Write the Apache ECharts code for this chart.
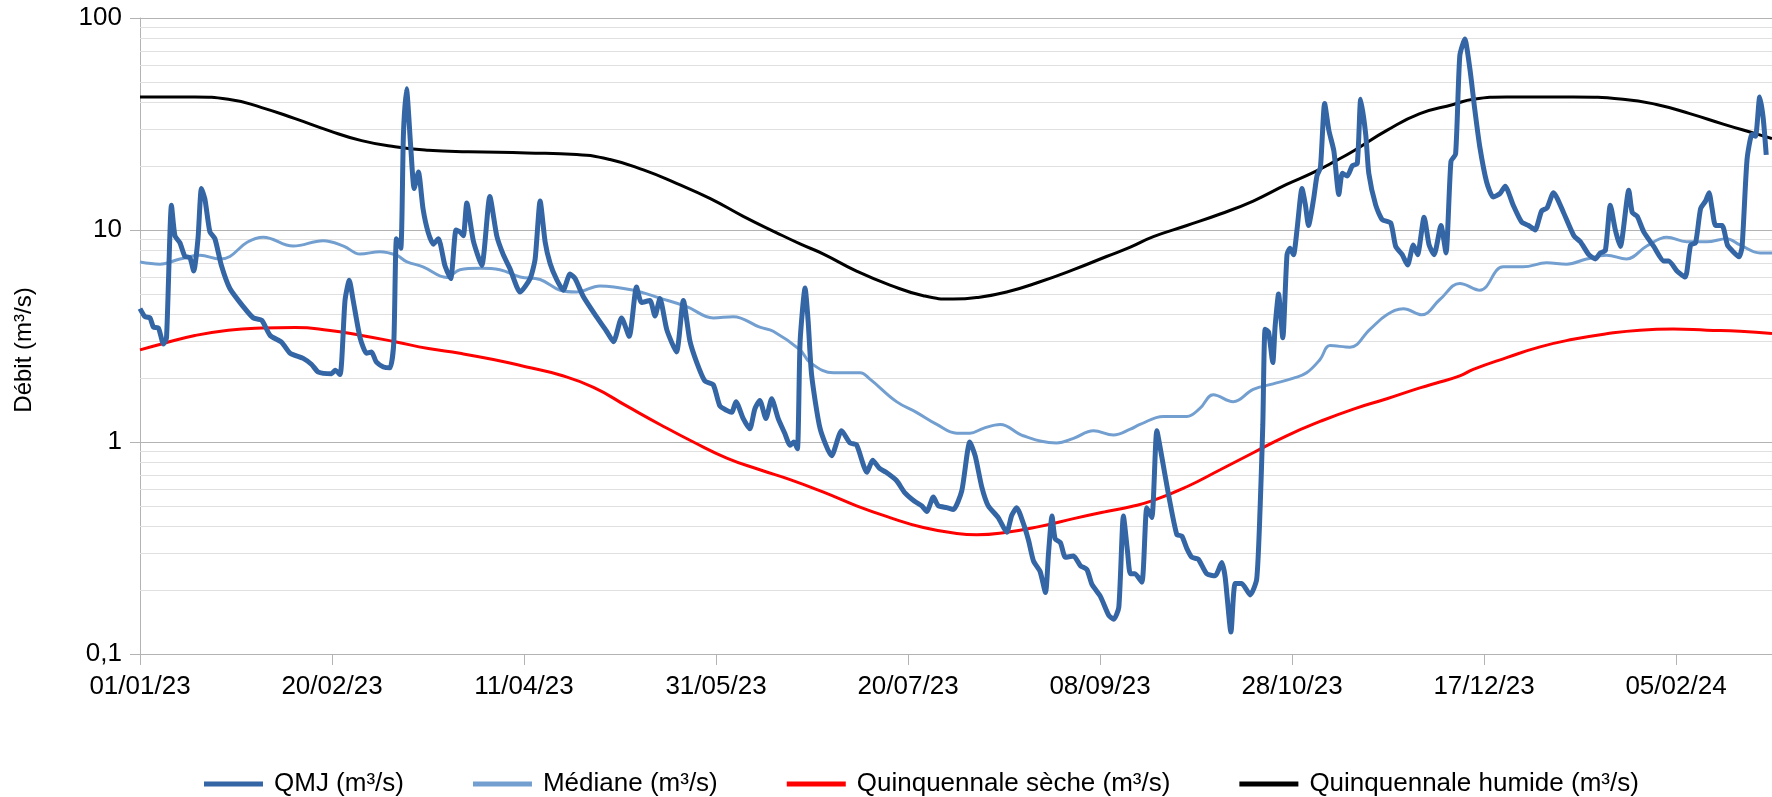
<!DOCTYPE html>
<html>
<head>
<meta charset="utf-8">
<script src="https://cdn.jsdelivr.net/npm/echarts@6/dist/echarts.min.js"></script>
<style>
  html, body { margin: 0; padding: 0; background: #fff; }
  #chart { width: 1772px; height: 797px; }
</style>
</head>
<body>
<div id="chart"></div>
<script>
// jours depuis le 01/01/23
var tickLabels = ['01/01/23', '20/02/23', '11/04/23', '31/05/23', '20/07/23', '08/09/23', '28/10/23', '17/12/23', '05/02/24'];
var minorGridValues = [0.2, 0.3, 0.4, 0.5, 0.6, 0.7, 0.8, 0.9, 2, 3, 4, 5, 6, 7, 8, 9, 20, 30, 40, 50, 60, 70, 80, 90];

var qmj = [[0,4.26],[1.3,3.9],[2.6,3.85],[3.5,3.48],[4.8,3.45],[6.1,2.9],[6.9,3.1],[8.2,13.1],[9.1,9.4],[10.4,8.7],[11.7,7.5],[13,7.4],[14,6.4],[15.1,9.1],[16,15.7],[16.9,14],[18.2,9.8],[19.5,9.1],[21.2,6.8],[23.4,5.3],[26.9,4.35],[29.5,3.85],[31.7,3.75],[33.9,3.18],[36.9,2.95],[39.1,2.62],[42.5,2.48],[44.7,2.32],[46.4,2.14],[49.9,2.1],[50.8,2.18],[52.1,2.08],[53.4,4.67],[54.5,5.79],[55.5,4.67],[57.3,3.11],[59,2.62],[60.3,2.66],[61.5,2.39],[63.4,2.26],[65.1,2.24],[66.1,2.97],[66.8,9.1],[67.9,8.2],[68.6,28.2],[69.4,46.4],[70.5,24.7],[71.4,15.7],[72.5,18.8],[73.7,12.6],[75,9.8],[76.4,8.57],[77.7,9.1],[79.4,6.8],[80.9,5.9],[82.3,10],[83.3,9.8],[84.2,9.4],[85.1,13.4],[86.8,8.9],[89,6.8],[91.1,14.4],[92.9,9.4],[94.6,7.65],[96.3,6.6],[99,5.1],[101.6,5.9],[102.9,7.3],[104.2,13.7],[105.5,8.8],[106.8,6.95],[108.5,5.84],[110.2,5.2],[112,6.2],[113.3,5.9],[115.4,4.87],[118.9,3.89],[121.5,3.33],[123.3,2.97],[125.4,3.85],[127.4,3.15],[129.3,5.38],[130.6,4.55],[132.8,4.65],[134.1,3.93],[135.4,4.75],[137.2,3.38],[139.7,2.66],[141.5,4.65],[143.2,3.0],[145,2.37],[147.1,1.94],[149.3,1.86],[151,1.48],[152.8,1.41],[154.1,1.38],[155.2,1.55],[157.1,1.29],[158.8,1.155],[160.1,1.43],[161.4,1.57],[163,1.29],[164.5,1.6],[166.2,1.29],[167.9,1.1],[169.3,0.965],[170.3,1.0],[171.2,0.93],[171.9,2.97],[173.2,5.33],[174,3.7],[174.9,2.07],[177.1,1.16],[180.1,0.862],[182.7,1.13],[184.9,0.99],[186.6,0.97],[189.3,0.72],[190.8,0.82],[192.6,0.75],[194.3,0.72],[197,0.658],[199.2,0.575],[201.7,0.525],[203.6,0.5],[204.9,0.47],[206.6,0.55],[207.9,0.5],[210.1,0.49],[211.8,0.48],[214,0.588],[216.1,1.0],[217.5,0.86],[219.2,0.615],[220.9,0.5],[223.5,0.44],[225.7,0.375],[227,0.45],[228.3,0.49],[230.1,0.41],[231.4,0.343],[232.7,0.274],[234.4,0.245],[235.8,0.195],[236.6,0.3],[237.5,0.448],[238.3,0.35],[239.7,0.335],[241,0.286],[243.1,0.29],[244.9,0.261],[246.6,0.25],[247.9,0.213],[250.1,0.187],[252.3,0.152],[253.6,0.146],[254.9,0.166],[256.1,0.448],[257.2,0.3],[257.9,0.239],[259.1,0.239],[260.9,0.218],[262.2,0.49],[263.5,0.44],[264.8,1.13],[266.1,0.85],[267.8,0.57],[270,0.366],[271.3,0.36],[272.6,0.315],[273.9,0.286],[275.6,0.28],[277.8,0.239],[280,0.234],[281.7,0.27],[282.6,0.23],[284.1,0.127],[285.2,0.215],[286.9,0.215],[289.1,0.19],[290.8,0.225],[291.7,0.49],[292.4,1.21],[293,3.4],[293.9,3.3],[295,2.37],[295.6,3.5],[296.5,4.99],[297.6,3.1],[298.7,7.65],[299.5,8.2],[300.4,7.65],[301.3,10],[302.6,15.7],[303.5,13.1],[304.3,10.5],[305.6,13.9],[306.5,18],[307.4,19.7],[308.5,39.5],[309.6,29.5],[310.9,23.6],[312.2,14.7],[313.1,18.5],[314.4,18],[315.7,20.1],[317,20.6],[317.9,41.4],[319.2,28.2],[320,18.5],[321.8,13.1],[323.5,11.2],[325.7,10.8],[327,8.37],[328.7,7.65],[330.1,6.84],[331.6,8.5],[332.7,7.65],[334.4,11.5],[335.7,8.5],[337,7.65],[338.8,10.5],[340.1,7.8],[341.4,21.1],[342.6,22.8],[343.7,66.4],[345,79.5],[346.3,58],[347.6,37],[348.9,24.7],[350.7,16.8],[352.4,14.3],[354.2,14.9],[355.5,16.1],[357.6,13.1],[359.8,10.9],[361.6,10.5],[363.3,10],[365,12.3],[366.4,12.7],[368.1,15],[370.7,12.1],[373.4,9.4],[375.1,8.8],[377.3,7.65],[379,7.3],[380.3,7.8],[381.6,8.0],[382.9,13.1],[384.2,10],[385.5,8.37],[387.7,15.4],[388.6,12.1],[389.9,11.6],[391.6,9.8],[394.2,8.37],[396.8,7.15],[398.1,7.15],[400.3,6.39],[402.4,6.0],[403.8,8.5],[405.1,8.7],[406.4,12.6],[407.7,13.7],[408.6,15],[409.4,12.6],[410.3,10.5],[412,10.5],[413.4,8.5],[414.6,8.0],[416.4,7.48],[417.2,8.3],[418.5,21.5],[419.8,28.2],[420.7,27.7],[421.8,42.4],[422.7,33.8],[423.5,22.6]];

var mediane = [[0,7.06],[5.2,6.9],[10.4,7.3],[15.6,7.6],[20.8,7.3],[23.4,7.5],[27.9,8.75],[32.1,9.25],[39.9,8.4],[47.7,8.9],[53,8.4],[57.3,7.7],[62.5,7.9],[66.8,7.6],[69.4,7.1],[73.7,6.7],[79.9,5.97],[83.3,6.5],[88.5,6.6],[93.7,6.5],[99,6.0],[104.2,5.84],[109.4,5.2],[113.7,5.1],[119.8,5.45],[128.5,5.2],[135.4,4.77],[142.4,4.35],[149.3,3.85],[154.5,3.9],[161.4,3.48],[164.9,3.33],[171.9,2.72],[174.5,2.37],[180.6,2.12],[187.5,2.12],[190.1,1.98],[197,1.55],[202.2,1.38],[207.5,1.21],[212.7,1.1],[216.1,1.1],[219.6,1.16],[224,1.21],[230,1.07],[238.7,0.99],[243.1,1.04],[248.3,1.13],[253.5,1.08],[257.9,1.15],[260.4,1.21],[266.5,1.32],[272.6,1.32],[276,1.44],[279.5,1.67],[284.7,1.55],[289.9,1.77],[295.1,1.88],[300.4,2.0],[303.8,2.12],[307.3,2.45],[309.9,2.85],[315.1,2.8],[320.3,3.4],[324.7,3.98],[329,4.25],[333.8,3.98],[338.5,4.7],[343.7,5.6],[348.9,5.2],[355,6.7],[360.2,6.7],[366.3,7.0],[371.5,6.9],[376.7,7.3],[381.9,7.6],[387.1,7.3],[392.4,8.4],[397.6,9.25],[402.8,8.8],[408,8.8],[413.2,9.1],[416.7,8.5],[421.9,7.8],[425,7.8]];

var quinqSeche = [[0,2.72],[5.6,2.9],[14.3,3.18],[23,3.37],[31.7,3.45],[40.4,3.47],[49,3.37],[57.7,3.18],[66.4,2.97],[75.1,2.76],[83.3,2.62],[92,2.45],[100.7,2.26],[109.4,2.07],[118.1,1.81],[126.7,1.48],[135.4,1.21],[144.1,1.0],[152.8,0.84],[161.4,0.74],[169.3,0.665],[178,0.58],[186.6,0.5],[195.3,0.44],[204,0.395],[212.7,0.37],[217.9,0.365],[225.7,0.375],[234.4,0.4],[243.1,0.435],[251.7,0.47],[257.9,0.495],[263.9,0.53],[272.6,0.615],[281.3,0.74],[289.9,0.89],[298.6,1.07],[307.3,1.25],[316,1.43],[324.7,1.6],[333.3,1.8],[338.5,1.92],[343.7,2.05],[347.2,2.2],[355.9,2.5],[364.6,2.81],[373.2,3.05],[381.9,3.24],[390.6,3.37],[399.3,3.41],[408,3.37],[416.7,3.33],[425,3.25]];

var quinqHumide = [[0,42.4],[14.3,42.4],[23,41.4],[31.7,37.8],[40.4,33.5],[49,29.5],[57.7,26.4],[66.4,24.7],[75.1,23.8],[85.5,23.4],[100.7,23.1],[113.7,22.7],[122.4,21.5],[131.1,19.2],[139.7,16.6],[148.4,14.1],[157.1,11.6],[165.8,9.7],[171.9,8.6],[178,7.7],[186.6,6.4],[195.3,5.5],[204,4.9],[211.8,4.72],[217.9,4.8],[225.7,5.1],[234.4,5.7],[243.1,6.5],[251.7,7.5],[257.9,8.3],[263.9,9.3],[272.6,10.5],[281.3,11.9],[289.9,13.7],[298.6,16.4],[305.6,18.7],[311.6,21.3],[316,23.6],[324.7,29.5],[333.3,35.4],[342,39.1],[347.2,41.4],[355.9,42.4],[373.2,42.4],[386.2,41.4],[394.9,39.1],[403.6,35.4],[412.3,31.6],[420.9,28.4],[425,27]];

var font = 'Liberation Sans';
var chart = echarts.init(document.getElementById('chart'));
var option = {
    backgroundColor: '#fff',
    animation: false,
    textStyle: { fontFamily: font, color: '#000' },
    grid: { left: 140, right: 0, top: 18, bottom: 143 },
    legend: {
        data: [
            { name: 'QMJ (m³/s)', icon: 'rect' },
            { name: 'Médiane (m³/s)', icon: 'rect' },
            { name: 'Quinquennale sèche (m³/s)', icon: 'rect' },
            { name: 'Quinquennale humide (m³/s)', icon: 'rect' }
        ],
        left: 199,
        top: 766,
        itemWidth: 59,
        itemHeight: 5,
        itemGap: 69,
        textStyle: { fontFamily: font, fontSize: 26, color: '#000', padding: [0, 0, 0, 6] }
    },
    xAxis: {
        type: 'value',
        min: 0,
        max: 425,
        interval: 50,
        axisLine: { lineStyle: { color: '#b3b3b3', width: 1 } },
        axisTick: { length: 11, lineStyle: { color: '#b3b3b3' } },
        splitLine: { show: false },
        axisLabel: {
            fontFamily: font, fontSize: 26, color: '#000', margin: 20,
            showMaxLabel: false,
            formatter: function (v) {
                var i = v / 50;
                return (i === Math.round(i) && tickLabels[i]) ? tickLabels[i] : '';
            }
        }
    },
    yAxis: {
        type: 'log',
        logBase: 10,
        min: 0.1,
        max: 100,
        name: 'Débit (m³/s)',
        nameLocation: 'middle',
        nameGap: 104,
        nameTextStyle: { fontFamily: font, fontSize: 24, color: '#000', padding: [0, 28, 0, 0] },
        axisLine: { show: true, lineStyle: { color: '#b3b3b3', width: 1 } },
        axisTick: { show: true, length: 10, lineStyle: { color: '#b3b3b3' } },
        splitLine: { lineStyle: { color: '#b3b3b3', width: 1 } },
        axisLabel: {
            fontFamily: font, fontSize: 26, color: '#000', margin: 18,
            formatter: function (v) { return String(v).replace('.', ','); }
        }
    },
    series: [
        {
            name: 'grille',
            type: 'line',
            data: [],
            silent: true,
            markLine: {
                silent: true,
                z: 1,
                symbol: ['none', 'none'],
                label: { show: false },
                lineStyle: { color: '#e0e0e0', width: 1, type: 'solid' },
                emphasis: { disabled: true },
                data: minorGridValues.map(function (v) { return { yAxis: v }; })
            }
        },
        {
            name: 'QMJ (m³/s)',
            type: 'line',
            data: qmj,
            z: 5,
            symbol: 'none',
            smooth: 0.2,
            lineStyle: { color: '#3465a4', width: 5 },
            itemStyle: { color: '#3465a4' }
        },
        {
            name: 'Médiane (m³/s)',
            type: 'line',
            data: mediane,
            z: 3,
            symbol: 'none',
            smooth: 0.4,
            lineStyle: { color: '#729fcf', width: 3 },
            itemStyle: { color: '#729fcf' }
        },
        {
            name: 'Quinquennale sèche (m³/s)',
            type: 'line',
            data: quinqSeche,
            z: 3,
            symbol: 'none',
            smooth: 0.5,
            lineStyle: { color: '#ff0000', width: 3 },
            itemStyle: { color: '#ff0000' }
        },
        {
            name: 'Quinquennale humide (m³/s)',
            type: 'line',
            data: quinqHumide,
            z: 3,
            symbol: 'none',
            smooth: 0.5,
            lineStyle: { color: '#000000', width: 3 },
            itemStyle: { color: '#000000' }
        }
    ]
};
chart.setOption(option);
</script>
</body>
</html>
